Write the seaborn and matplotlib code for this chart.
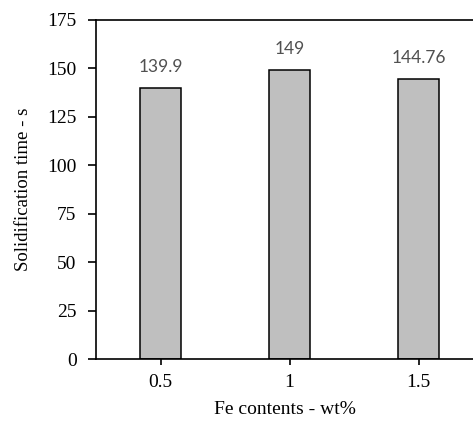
import matplotlib
matplotlib.use("Agg")
import matplotlib.pyplot as plt
import seaborn as sns
import pandas as pd

fe_contents = ["0.5", "1", "1.5"]
solid_time = [139.9, 149, 144.76]
value_labels = ["139.9", "149", "144.76"]
y_ticks = [0, 25, 50, 75, 100, 125, 150, 175]

sns.set_theme(style="white")
plt.rcParams["font.family"] = ["Liberation Serif", "DejaVu Serif"]

df = pd.DataFrame({"Fe": fe_contents, "time": solid_time})

fig = plt.figure(figsize=(4.73, 4.23), dpi=100)
ax = fig.add_axes([96 / 473, 64 / 423, 377 / 473, 339 / 423])

sns.barplot(data=df, x="Fe", y="time", color="#bfbfbf", width=0.32,
            edgecolor="black", linewidth=1.1, saturation=1, ax=ax)

for i, (v, lab) in enumerate(zip(solid_time, value_labels)):
    ax.annotate(lab, xy=(i, v), xytext=(0, 11.5), textcoords="offset points",
                ha="center", va="baseline", fontsize=12.5, color="#505050",
                family=["Lato", "DejaVu Sans"])

ax.set_xlim(-0.5, -0.5 + 377 / 129)
ax.set_ylim(0, 175)
ax.set_yticks(y_ticks)
ax.set_yticklabels([str(t) for t in y_ticks])

ax.spines["right"].set_visible(False)
for s in ["left", "bottom", "top"]:
    ax.spines[s].set_visible(True)
    ax.spines[s].set_color("black")
    ax.spines[s].set_linewidth(1.2)

ax.tick_params(axis="y", direction="out", length=6, width=1.2, color="black",
               labelsize=14, labelcolor="black", pad=8, left=True)
ax.tick_params(axis="x", direction="out", length=4, width=1.2, color="black",
               labelsize=14, labelcolor="black", pad=7, bottom=True)

ax.set_xlabel("Fe contents - wt%", fontsize=14, color="black", labelpad=7)
ax.set_ylabel("Solidification time - s", fontsize=13.5, color="black", labelpad=11)

fig.savefig("out.png", dpi=100)
